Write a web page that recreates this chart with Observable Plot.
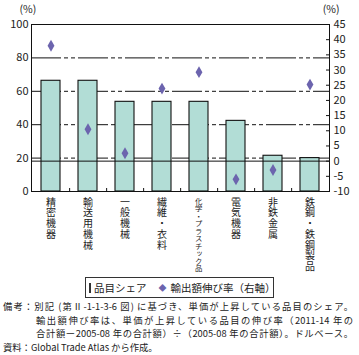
<!DOCTYPE html>
<html><head><meta charset="utf-8">
<script src="https://cdn.jsdelivr.net/npm/d3@7"></script>
<script src="https://cdn.jsdelivr.net/npm/@observablehq/plot@0.6"></script>
<style>
body{margin:0;background:#fff;font-family:"Noto Sans CJK JP",sans-serif;color:#222;width:359px;overflow:hidden;}
#chart{position:relative;width:359px;height:276px;}
#chart svg{position:absolute;left:0;top:0;overflow:visible;}
.vlab{position:absolute;writing-mode:vertical-rl;text-orientation:upright;white-space:nowrap;color:#222;line-height:1;}
#legend{margin:1px 0 0 85px;width:187px;height:19px;border:1px solid #333;font-size:10.5px;line-height:19px;white-space:nowrap;display:flex;align-items:center;}
#legend .sw{display:inline-block;width:8px;height:8px;border:1px solid #333;background:#b2ddd6;margin:0 3px 0 3px;}
#legend .dm{color:#6c64ae;font-size:8px;margin:0 4px 0 12px;}
#notes{font-size:9.3px;line-height:13.5px;margin:2px 0 0 3px;white-space:nowrap;}
#notes div{width:350px;text-align:left;}
#notes .just{text-align-last:justify;}
#notes .ind{padding-left:33px;width:317px;}
</style></head><body>
<div id="chart"></div>
<div id="legend"></div>
<div id="notes"></div>
<script>
const categories = ["精密機器","輸送用機械","一般機械","繊維・衣料","化学・プラスチック品","電気機器","非鉄金属","鉄鋼・鉄鋼製品"];
const share = [66.3, 66.3, 53.7, 53.7, 53.7, 42.3, 21.4, 20.0];
const growth = [38.0, 10.5, 2.6, 23.9, 29.3, -6.0, -2.9, 25.2];
const leftTicks = [0, 20, 40, 60, 80, 100];
const rightTicks = [-10, -5, 0, 5, 10, 15, 20, 25, 30, 35, 40, 45];
const gridValues = [20, 40, 60, 80];
const leftDomain = [0, 100];
const rightDomain = [-10, 45];
const unitLabel = "(%)";
const shareLabel = "品目シェア";
const growthLabel = "輸出額伸び率（右軸）";
const noteLines = [
  "備考：別記 (第Ⅱ-1-1-3-6 図) に基づき、単価が上昇している品目のシェア。",
  "輸出額伸び率は、単価が上昇している品目の伸び率（2011-14 年の",
  "合計額ー2005-08 年の合計額）÷（2005-08 年の合計額）。ドルベース。",
  "資料：Global Trade Atlas から作成。"
];

const W = 359, H = 276, ml = 31, mr = 30, mt = 24, mb = 85;
const plotW = W - ml - mr;
const step = plotW / categories.length;
const toLeft = v => leftDomain[0] + (v - rightDomain[0]) * (leftDomain[1] - leftDomain[0]) / (rightDomain[1] - rightDomain[0]);
const fromLeft = v => rightDomain[0] + (v - leftDomain[0]) * (rightDomain[1] - rightDomain[0]) / (leftDomain[1] - leftDomain[0]);

const rows = categories.map((c, i) => ({cat: c, share: share[i], growth: growth[i]}));

const chart = Plot.plot({
  width: W, height: H,
  marginLeft: ml, marginRight: mr, marginTop: mt, marginBottom: mb,
  style: {fontFamily: "'Noto Sans CJK JP', sans-serif", fontSize: "11px", color: "#222", background: "#fff"},
  x: {domain: categories, paddingInner: 0.5, paddingOuter: 0.25, axis: null},
  y: {domain: leftDomain, axis: null},
  marks: [
    Plot.ruleY(gridValues, {stroke: "#111", strokeWidth: 1, strokeDasharray: "30,3,4,3,4,3"}),
    Plot.barY(rows, {x: "cat", y: "share", fill: "#b2ddd6", stroke: "#111", strokeWidth: 1.1}),
    Plot.ruleY([toLeft(0)], {stroke: "#111", strokeWidth: 1}),
    Plot.ruleY(rightTicks.map(toLeft), {stroke: "#111", insetLeft: plotW - 3}),
    Plot.ruleX(categories.slice(0, -1), {x: d => d, dx: step / 2, stroke: "#111", insetTop: (H - mt - mb) - 3}),
    Plot.dot(rows, {x: "cat", y: d => toLeft(d.growth), symbol: "diamond", r: 3.6, fill: "#6c64ae"}),
    Plot.frame({stroke: "#111", strokeWidth: 1}),
    Plot.axisY(leftTicks, {anchor: "left", tickSize: 0, tickPadding: 3, label: null, fontSize: 11}),
    Plot.axisY(rightTicks.map(toLeft), {anchor: "right", tickSize: 0, tickPadding: 4, label: null, fontSize: 11,
      tickFormat: d => String(Math.round(fromLeft(d)))}),
    Plot.text([unitLabel], {frameAnchor: "top-left", dx: -12, dy: -19, fontSize: 10.5, fill: "#222"}),
    Plot.text([unitLabel], {frameAnchor: "top-right", dx: 10, dy: -19, fontSize: 10.5, fill: "#222"})
  ]
});
const holder = document.getElementById("chart");
holder.appendChild(chart);

// vertical category labels placed with the Plot x scale
const xs = chart.scale("x");
categories.forEach(c => {
  const long = c.length > 8;
  const fs = long ? 7.4 : 10;
  const cx = xs.apply(c) + xs.bandwidth / 2;
  const el = document.createElement("div");
  el.className = "vlab";
  el.textContent = c;
  el.style.fontSize = fs + "px";
  el.style.letterSpacing = (long ? 0.1 : 0.7) + "px";
  el.style.left = (cx - fs / 2) + "px";
  el.style.top = (H - mb + 6) + "px";
  holder.appendChild(el);
});

const lg = document.getElementById("legend");
lg.innerHTML = `<span class="sw"></span><span>${shareLabel}</span><span class="dm">◆</span><span>${growthLabel}</span>`;

const nt = document.getElementById("notes");
nt.innerHTML = noteLines.map((l, i) => {
  const cls = [i === 1 || i === 2 ? "ind" : "", i < 3 ? "just" : ""].join(" ");
  return `<div class="${cls}">${l}</div>`;
}).join("");
</script>
</body></html>
